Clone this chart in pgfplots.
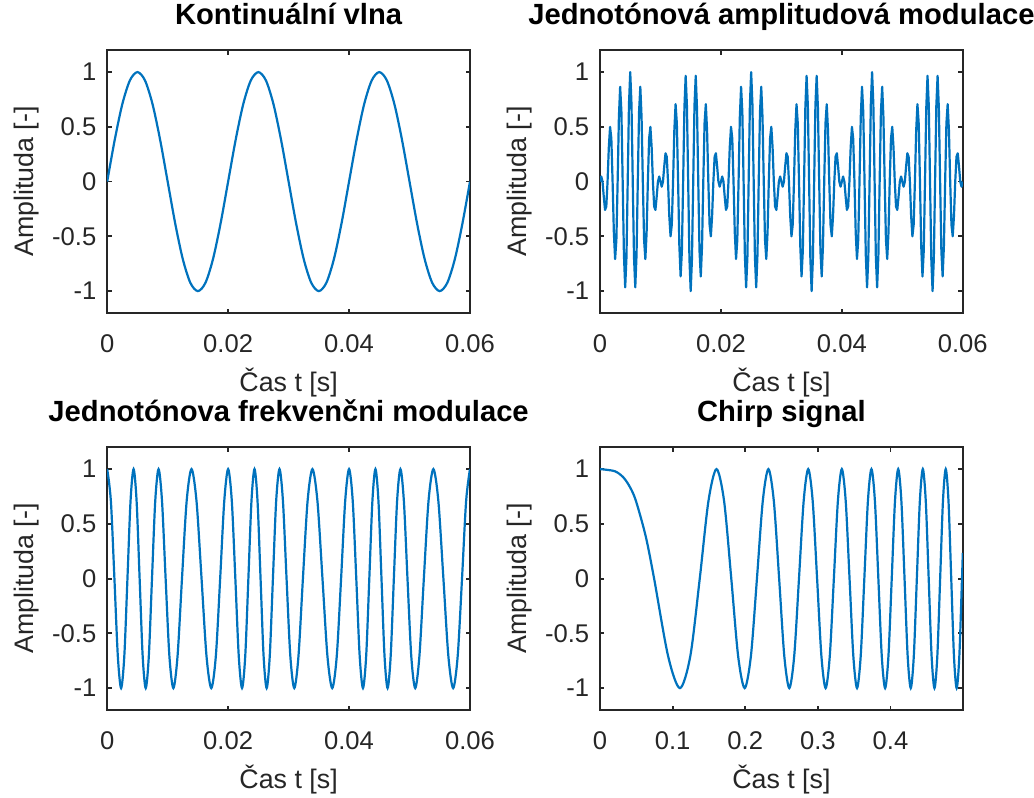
\documentclass[border=0pt]{standalone}
\usepackage{fontspec}
\setmainfont{Liberation Sans}
\usepackage{pgfplots}
\pgfplotsset{compat=1.18}
\definecolor{mblue}{RGB}{0,114,189}
\definecolor{axgray}{RGB}{38,38,38}

\pgfplotsset{
  sig/.style={
    scale only axis, width=181.4pt, height=131.4pt,
    anchor=south west,
    ymin=-1.2, ymax=1.2,
    ytick={-1,-0.5,0,0.5,1},
    yticklabels={-1,-0.5,0,0.5,1},
    tick align=inside,
    major tick length=2.2pt,
    axis line style={axgray, line width=0.9pt},
    every tick/.style={axgray, line width=0.9pt},
    tick label style={font=\fontsize{12.8}{14}\selectfont, text=axgray},
    label style={font=\fontsize{13.4}{15}\selectfont, text=axgray},
    title style={font=\fontsize{14.6}{16}\selectfont\bfseries, text=black,
      at={(axis description cs:0.5,1)}, anchor=base, yshift=6.7pt},
    xlabel style={at={(axis description cs:0.5,0)}, anchor=base, yshift=-39.2pt},
    ylabel style={at={(axis description cs:-0.222,0.5)}, anchor=center},
    xticklabel shift=7.4pt, yticklabel shift=1.9pt,
    xlabel={Čas t [s]}, ylabel={Amplituda [-]},
    scaled x ticks=false,
  },
  short/.style={xmin=0, xmax=0.06, xtick={0,0.02,0.04,0.06},
    xticklabels={0,0.02,0.04,0.06}},
  sigline/.style={mblue, line width=1.1pt, smooth, mark=none},
  rawline/.style={mblue, line width=1.1pt, sharp plot, line join=round, mark=none},
}

\begin{document}
\begin{tikzpicture}

% --- continuous wave, 50 Hz ---
\begin{axis}[sig, short, at={(53.6pt,242.5pt)}, title={Kontinuální vlna}]
\addplot[sigline] coordinates {
(0,0) (0.00125,0.3827) (0.0025,0.7071) (0.00375,0.9239) (0.005,1) (0.00625,0.9239) (0.0075,0.7071) (0.00875,0.3827)
(0.01,0) (0.01125,-0.3827) (0.0125,-0.7071) (0.01375,-0.9239) (0.015,-1) (0.01625,-0.9239) (0.0175,-0.7071) (0.01875,-0.3827)
(0.02,0) (0.02125,0.3827) (0.0225,0.7071) (0.02375,0.9239) (0.025,1) (0.02625,0.9239) (0.0275,0.7071) (0.02875,0.3827)
(0.03,0) (0.03125,-0.3827) (0.0325,-0.7071) (0.03375,-0.9239) (0.035,-1) (0.03625,-0.9239) (0.0375,-0.7071) (0.03875,-0.3827)
(0.04,0) (0.04125,0.3827) (0.0425,0.7071) (0.04375,0.9239) (0.045,1) (0.04625,0.9239) (0.0475,0.7071) (0.04875,0.3827)
(0.05,0) (0.05125,-0.3827) (0.0525,-0.7071) (0.05375,-0.9239) (0.055,-1) (0.05625,-0.9239) (0.0575,-0.7071) (0.05875,-0.3827)
(0.06,0)
};
\end{axis}

% --- single-tone AM, 600 Hz carrier, 50 Hz message ---
\begin{axis}[sig, short, at={(300pt,242.5pt)}, title={Jednotónová amplitudová modulace}]
\addplot[rawline] coordinates {
(0,0) (0.0002083,0.0463) (0.0004167,0) (0.000625,-0.1380) (0.0008333,-0.2588) (0.0010417,-0.2273) (0.00125,0) (0.0014583,0.3127)
(0.0016667,0.5) (0.001875,0.3928) (0.0020833,0) (0.0022917,-0.4662) (0.0025,-0.7071) (0.0027083,-0.5316) (0.0029167,0) (0.003125,0.5879)
(0.0033333,0.8660) (0.0035417,0.6342) (0.00375,0) (0.0039583,-0.6696) (0.0041667,-0.9659) (0.004375,-0.6935) (0.0045833,0) (0.0047917,0.7056)
(0.005,1) (0.0052083,0.7056) (0.0054167,0) (0.005625,-0.6935) (0.0058333,-0.9659) (0.0060417,-0.6696) (0.00625,0) (0.0064583,0.6342)
(0.0066667,0.8660) (0.006875,0.5879) (0.0070833,0) (0.0072917,-0.5316) (0.0075,-0.7071) (0.0077083,-0.4662) (0.0079167,0) (0.008125,0.3928)
(0.0083333,0.5) (0.0085417,0.3127) (0.00875,0) (0.0089583,-0.2273) (0.0091667,-0.2588) (0.009375,-0.1380) (0.0095833,0) (0.0097917,0.0463)
(0.01,0) (0.0102083,-0.0463) (0.0104167,0) (0.010625,0.1380) (0.0108333,0.2588) (0.0110417,0.2273) (0.01125,0) (0.0114583,-0.3127)
(0.0116667,-0.5) (0.011875,-0.3928) (0.0120833,0) (0.0122917,0.4662) (0.0125,0.7071) (0.0127083,0.5316) (0.0129167,0) (0.013125,-0.5879)
(0.0133333,-0.8660) (0.0135417,-0.6342) (0.01375,0) (0.0139583,0.6696) (0.0141667,0.9659) (0.014375,0.6935) (0.0145833,0) (0.0147917,-0.7056)
(0.015,-1) (0.0152083,-0.7056) (0.0154167,0) (0.015625,0.6935) (0.0158333,0.9659) (0.0160417,0.6696) (0.01625,0) (0.0164583,-0.6342)
(0.0166667,-0.8660) (0.016875,-0.5879) (0.0170833,0) (0.0172917,0.5316) (0.0175,0.7071) (0.0177083,0.4662) (0.0179167,0) (0.018125,-0.3928)
(0.0183333,-0.5) (0.0185417,-0.3127) (0.01875,0) (0.0189583,0.2273) (0.0191667,0.2588) (0.019375,0.1380) (0.0195833,0) (0.0197917,-0.0463)
(0.02,0) (0.0202083,0.0463) (0.0204167,0) (0.020625,-0.1380) (0.0208333,-0.2588) (0.0210417,-0.2273) (0.02125,0) (0.0214583,0.3127)
(0.0216667,0.5) (0.021875,0.3928) (0.0220833,0) (0.0222917,-0.4662) (0.0225,-0.7071) (0.0227083,-0.5316) (0.0229167,0) (0.023125,0.5879)
(0.0233333,0.8660) (0.0235417,0.6342) (0.02375,0) (0.0239583,-0.6696) (0.0241667,-0.9659) (0.024375,-0.6935) (0.0245833,0) (0.0247917,0.7056)
(0.025,1) (0.0252083,0.7056) (0.0254167,0) (0.025625,-0.6935) (0.0258333,-0.9659) (0.0260417,-0.6696) (0.02625,0) (0.0264583,0.6342)
(0.0266667,0.8660) (0.026875,0.5879) (0.0270833,0) (0.0272917,-0.5316) (0.0275,-0.7071) (0.0277083,-0.4662) (0.0279167,0) (0.028125,0.3928)
(0.0283333,0.5) (0.0285417,0.3127) (0.02875,0) (0.0289583,-0.2273) (0.0291667,-0.2588) (0.029375,-0.1380) (0.0295833,0) (0.0297917,0.0463)
(0.03,0) (0.0302083,-0.0463) (0.0304167,0) (0.030625,0.1380) (0.0308333,0.2588) (0.0310417,0.2273) (0.03125,0) (0.0314583,-0.3127)
(0.0316667,-0.5) (0.031875,-0.3928) (0.0320833,0) (0.0322917,0.4662) (0.0325,0.7071) (0.0327083,0.5316) (0.0329167,0) (0.033125,-0.5879)
(0.0333333,-0.8660) (0.0335417,-0.6342) (0.03375,0) (0.0339583,0.6696) (0.0341667,0.9659) (0.034375,0.6935) (0.0345833,0) (0.0347917,-0.7056)
(0.035,-1) (0.0352083,-0.7056) (0.0354167,0) (0.035625,0.6935) (0.0358333,0.9659) (0.0360417,0.6696) (0.03625,0) (0.0364583,-0.6342)
(0.0366667,-0.8660) (0.036875,-0.5879) (0.0370833,0) (0.0372917,0.5316) (0.0375,0.7071) (0.0377083,0.4662) (0.0379167,0) (0.038125,-0.3928)
(0.0383333,-0.5) (0.0385417,-0.3127) (0.03875,0) (0.0389583,0.2273) (0.0391667,0.2588) (0.039375,0.1380) (0.0395833,0) (0.0397917,-0.0463)
(0.04,0) (0.0402083,0.0463) (0.0404167,0) (0.040625,-0.1380) (0.0408333,-0.2588) (0.0410417,-0.2273) (0.04125,0) (0.0414583,0.3127)
(0.0416667,0.5) (0.041875,0.3928) (0.0420833,0) (0.0422917,-0.4662) (0.0425,-0.7071) (0.0427083,-0.5316) (0.0429167,0) (0.043125,0.5879)
(0.0433333,0.8660) (0.0435417,0.6342) (0.04375,0) (0.0439583,-0.6696) (0.0441667,-0.9659) (0.044375,-0.6935) (0.0445833,0) (0.0447917,0.7056)
(0.045,1) (0.0452083,0.7056) (0.0454167,0) (0.045625,-0.6935) (0.0458333,-0.9659) (0.0460417,-0.6696) (0.04625,0) (0.0464583,0.6342)
(0.0466667,0.8660) (0.046875,0.5879) (0.0470833,0) (0.0472917,-0.5316) (0.0475,-0.7071) (0.0477083,-0.4662) (0.0479167,0) (0.048125,0.3928)
(0.0483333,0.5) (0.0485417,0.3127) (0.04875,0) (0.0489583,-0.2273) (0.0491667,-0.2588) (0.049375,-0.1380) (0.0495833,0) (0.0497917,0.0463)
(0.05,0) (0.0502083,-0.0463) (0.0504167,0) (0.050625,0.1380) (0.0508333,0.2588) (0.0510417,0.2273) (0.05125,0) (0.0514583,-0.3127)
(0.0516667,-0.5) (0.051875,-0.3928) (0.0520833,0) (0.0522917,0.4662) (0.0525,0.7071) (0.0527083,0.5316) (0.0529167,0) (0.053125,-0.5879)
(0.0533333,-0.8660) (0.0535417,-0.6342) (0.05375,0) (0.0539583,0.6696) (0.0541667,0.9659) (0.054375,0.6935) (0.0545833,0) (0.0547917,-0.7056)
(0.055,-1) (0.0552083,-0.7056) (0.0554167,0) (0.055625,0.6935) (0.0558333,0.9659) (0.0560417,0.6696) (0.05625,0) (0.0564583,-0.6342)
(0.0566667,-0.8660) (0.056875,-0.5879) (0.0570833,0) (0.0572917,0.5316) (0.0575,0.7071) (0.0577083,0.4662) (0.0579167,0) (0.058125,-0.3928)
(0.0583333,-0.5) (0.0585417,-0.3127) (0.05875,0) (0.0589583,0.2273) (0.0591667,0.2588) (0.059375,0.1380) (0.0595833,0) (0.0597917,-0.0463)
(0.06,0)
};
\end{axis}

% --- single-tone FM, 200 Hz carrier, 50 Hz message ---
\begin{axis}[sig, short, at={(53.6pt,44pt)}, title={Jednotónova frekvenčni modulace}]
\addplot[sigline] coordinates {
(0,1) (0.0006104,0.7071) (0.0011946,0) (0.0017570,-0.7071) (0.0023011,-1) (0.0028306,-0.7071) (0.0033489,0) (0.0038586,0.7071)
(0.0043625,1) (0.0048634,0.7071) (0.0053636,0) (0.0058654,-0.7071) (0.0063718,-1) (0.0068850,-0.7071) (0.0074083,0) (0.0079437,0.7071)
(0.0084957,1) (0.0090675,0.7071) (0.0096629,0) (0.0102866,-0.7071) (0.0109432,-1) (0.0116362,-0.7071) (0.0123685,0) (0.0131403,0.7071)
(0.0139455,1) (0.0147723,0.7071) (0.0156043,0) (0.0164232,-0.7071) (0.0172144,-1) (0.0179683,-0.7071) (0.0186828,0) (0.0193590,0.7071)
(0.02,1) (0.0206104,0.7071) (0.0211946,0) (0.0217570,-0.7071) (0.0223011,-1) (0.0228306,-0.7071) (0.0233489,0) (0.0238586,0.7071)
(0.0243625,1) (0.0248634,0.7071) (0.0253636,0) (0.0258654,-0.7071) (0.0263718,-1) (0.0268850,-0.7071) (0.0274083,0) (0.0279437,0.7071)
(0.0284957,1) (0.0290675,0.7071) (0.0296629,0) (0.0302866,-0.7071) (0.0309432,-1) (0.0316362,-0.7071) (0.0323685,0) (0.0331403,0.7071)
(0.0339455,1) (0.0347723,0.7071) (0.0356043,0) (0.0364232,-0.7071) (0.0372144,-1) (0.0379683,-0.7071) (0.0386828,0) (0.0393590,0.7071)
(0.04,1) (0.0406104,0.7071) (0.0411946,0) (0.0417570,-0.7071) (0.0423011,-1) (0.0428306,-0.7071) (0.0433489,0) (0.0438586,0.7071)
(0.0443625,1) (0.0448634,0.7071) (0.0453636,0) (0.0458654,-0.7071) (0.0463718,-1) (0.0468850,-0.7071) (0.0474083,0) (0.0479437,0.7071)
(0.0484957,1) (0.0490675,0.7071) (0.0496629,0) (0.0502866,-0.7071) (0.0509432,-1) (0.0516362,-0.7071) (0.0523685,0) (0.0531403,0.7071)
(0.0539455,1) (0.0547723,0.7071) (0.0556043,0) (0.0564232,-0.7071) (0.0572144,-1) (0.0579683,-0.7071) (0.0586828,0) (0.0593590,0.7071)
(0.06,1)
};
\end{axis}

% --- linear chirp ---
\begin{axis}[sig, at={(300pt,44pt)}, title={Chirp signal},
  xmin=0, xmax=0.4995, xtick={0,0.1,0.2,0.3,0.4}, xticklabels={0,0.1,0.2,0.3,0.4}]
\addplot[sigline] coordinates {
(0,1) (0.020294,0.9808) (0.032225,0.9239) (0.041600,0.8315) (0.049583,0.7071) (0.063070,0.3827) (0.074499,0) (0.093742,-0.7071)
(0.110006,-1) (0.124355,-0.7071) (0.137340,0) (0.149288,0.7071) (0.160414,1) (0.170867,0.7071) (0.180757,0) (0.190166,-0.7071)
(0.199157,-1) (0.207782,-0.7071) (0.216082,0) (0.224093,0.7071) (0.231840,1) (0.239350,0.7071) (0.246643,0) (0.253736,-0.7071)
(0.260645,-1) (0.267384,-0.7071) (0.273964,0) (0.280397,0.7071) (0.286692,1) (0.292857,0.7071) (0.298901,0) (0.304829,-0.7071)
(0.310649,-1) (0.316366,-0.7071) (0.321985,0) (0.327512,0.7071) (0.332950,1) (0.338304,0.7071) (0.343578,0) (0.348774,-0.7071)
(0.353897,-1) (0.358950,-0.7071) (0.363934,0) (0.368854,0.7071) (0.373711,1) (0.378507,0.7071) (0.383246,0) (0.387929,-0.7071)
(0.392558,-1) (0.397134,-0.7071) (0.401660,0) (0.406137,0.7071) (0.410566,1) (0.414950,0.7071) (0.419290,0) (0.423585,-0.7071)
(0.427840,-1) (0.432053,-0.7071) (0.436227,0) (0.440363,0.7071) (0.444460,1) (0.448522,0.7071) (0.452548,0) (0.456540,-0.7071)
(0.460499,-1) (0.464424,-0.7071) (0.468317,0) (0.472179,0.7071) (0.476010,1) (0.479812,0.7071) (0.483585,0) (0.487329,-0.7071)
(0.491045,-1) (0.494734,-0.7071) (0.498397,0) (0.4995,0.235)
};
\end{axis}

\pgfresetboundingbox
\path (0,0) rectangle (517pt,399pt);
\end{tikzpicture}
\end{document}
